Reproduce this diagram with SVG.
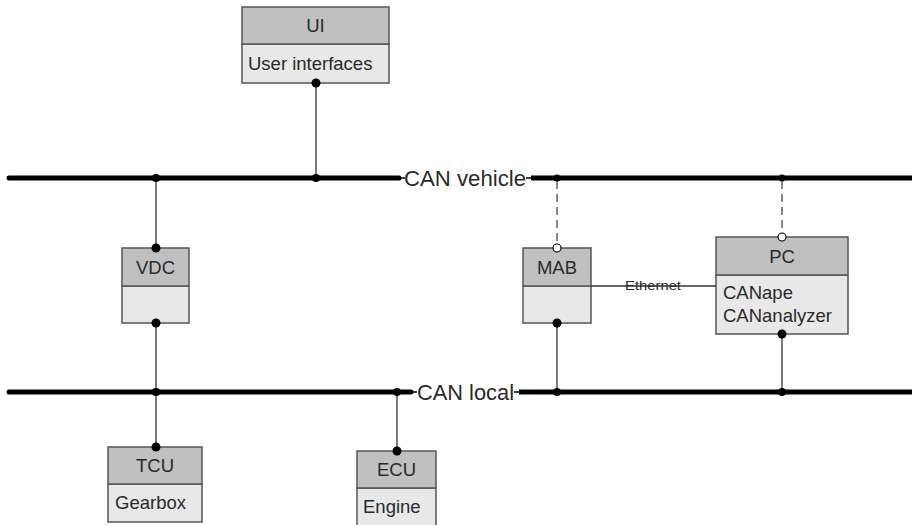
<svg xmlns="http://www.w3.org/2000/svg" width="912" height="525" viewBox="0 0 912 525">
<defs>
<style>
text{font-family:"Liberation Sans",Arial,sans-serif;fill:#2a2a2a;}
.lbl{font-size:18.5px;}
.bus-lbl{font-size:22px;}
.eth{font-size:13px;}
.hdr{fill:#c0c0c0;stroke:#555;stroke-width:1.5;}
.body{fill:#e8e8e8;stroke:#555;stroke-width:1.5;}
.bus{stroke:#000;stroke-width:5;fill:none;}
.thin{stroke:#000;stroke-width:1.5;fill:none;}
.link{stroke:#333;stroke-width:1.3;fill:none;}
.dash{stroke:#555;stroke-width:1.4;fill:none;stroke-dasharray:8,5;}
.dot{fill:#000;}
.open{fill:#fff;stroke:#000;stroke-width:1.1;}
</style>
</defs>
<rect width="912" height="525" fill="#fff"/>
<g id="node-ui">
<rect class="body" x="242" y="44" width="147" height="39"/>
<rect class="hdr" x="242" y="7" width="147" height="37"/>
<text class="lbl" x="315.5" y="32" text-anchor="middle">UI</text>
<text class="lbl" x="248" y="70">User interfaces</text>
</g>
<g id="node-vdc">
<rect class="body" x="122" y="286" width="67" height="37"/>
<rect class="hdr" x="122" y="248" width="67" height="38"/>
<text class="lbl" x="155.5" y="274" text-anchor="middle">VDC</text>
</g>
<g id="node-mab">
<rect class="body" x="523" y="286" width="68" height="37"/>
<rect class="hdr" x="523" y="248" width="68" height="38"/>
<text class="lbl" x="557" y="274" text-anchor="middle">MAB</text>
</g>
<g id="node-pc">
<rect class="body" x="716" y="275" width="132" height="59"/>
<rect class="hdr" x="716" y="237" width="132" height="38"/>
<text class="lbl" x="782" y="263" text-anchor="middle">PC</text>
<text class="lbl" x="723" y="299">CANape</text>
<text class="lbl" x="723" y="322">CANanalyzer</text>
</g>
<g id="node-tcu">
<rect class="body" x="108" y="484" width="94" height="38"/>
<rect class="hdr" x="108" y="447" width="94" height="37"/>
<text class="lbl" x="155" y="472" text-anchor="middle">TCU</text>
<text class="lbl" x="115" y="509">Gearbox</text>
</g>
<g id="node-ecu">
<rect class="body" x="357" y="488" width="79" height="40"/>
<rect class="hdr" x="357" y="451" width="79" height="37"/>
<text class="lbl" x="396.5" y="476" text-anchor="middle">ECU</text>
<text class="lbl" x="363" y="513">Engine</text>
</g>
<g id="connectors">
<line class="bus" x1="9" y1="178" x2="399" y2="178" stroke-linecap="round"/>
<line class="thin" x1="399" y1="178" x2="405" y2="178"/>
<line class="thin" x1="526" y1="178" x2="531" y2="178"/>
<line class="bus" x1="531" y1="178" x2="912" y2="178"/>
<line class="bus" x1="9" y1="392" x2="411" y2="392" stroke-linecap="round"/>
<line class="thin" x1="411" y1="392" x2="417" y2="392"/>
<line class="thin" x1="514" y1="392" x2="519" y2="392"/>
<line class="bus" x1="519" y1="392" x2="912" y2="392"/>
<line class="link" x1="316" y1="83" x2="316" y2="178"/>
<circle class="dot" cx="316" cy="83" r="4.5"/>
<circle class="dot" cx="316" cy="178" r="4"/>
<line class="link" x1="156" y1="178" x2="156" y2="248"/>
<circle class="dot" cx="156" cy="178" r="4"/>
<circle class="dot" cx="156" cy="248" r="4.5"/>
<line class="link" x1="156" y1="323" x2="156" y2="447"/>
<circle class="dot" cx="156" cy="323" r="4.5"/>
<circle class="dot" cx="156" cy="392" r="4"/>
<circle class="dot" cx="156" cy="447" r="4.5"/>
<line class="dash" x1="557" y1="181" x2="557" y2="244"/>
<circle class="dot" cx="557" cy="178" r="3.5"/>
<circle class="open" cx="557" cy="248" r="4"/>
<line class="link" x1="557" y1="323" x2="557" y2="392"/>
<circle class="dot" cx="557" cy="323" r="4.5"/>
<circle class="dot" cx="557" cy="392" r="4"/>
<line class="dash" x1="782" y1="181" x2="782" y2="233"/>
<circle class="dot" cx="782" cy="178" r="3.5"/>
<circle class="open" cx="782" cy="237" r="4"/>
<line class="link" x1="782" y1="334" x2="782" y2="392"/>
<circle class="dot" cx="782" cy="334" r="4.5"/>
<circle class="dot" cx="782" cy="392" r="4"/>
<line class="link" x1="397" y1="392" x2="397" y2="451"/>
<circle class="dot" cx="397" cy="392" r="4"/>
<circle class="dot" cx="397" cy="451" r="4.5"/>
<line class="link" x1="591" y1="286" x2="716" y2="286"/>
<text class="eth" x="625" y="290" textLength="56" lengthAdjust="spacingAndGlyphs">Ethernet</text>
<text class="bus-lbl" x="404" y="186" textLength="122" lengthAdjust="spacingAndGlyphs">CAN vehicle</text>
<text class="bus-lbl" x="417" y="400" textLength="97" lengthAdjust="spacingAndGlyphs">CAN local</text>
</g>
</svg>
